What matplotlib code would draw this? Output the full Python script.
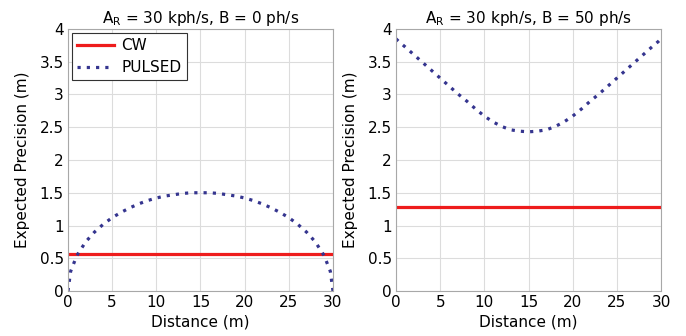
import matplotlib
matplotlib.use("Agg")
from matplotlib import pyplot as plt
from matplotlib.ticker import FormatStrFormatter

# distance samples (m)
distance = [0, 0.3, 1, 2, 3, 4, 5, 6, 7, 8, 9, 10, 11, 12, 13, 14, 15,
            16, 17, 18, 19, 20, 21, 22, 23, 24, 25, 26, 27, 28, 29, 29.7, 30]

# left panel: B = 0 ph/s
pulsed_b0 = [0, 0.30, 0.54, 0.75, 0.90, 1.02, 1.12, 1.20, 1.27, 1.33, 1.38, 1.42,
             1.45, 1.47, 1.49, 1.50, 1.50, 1.50, 1.49, 1.47, 1.45, 1.42, 1.38,
             1.33, 1.27, 1.20, 1.12, 1.02, 0.90, 0.75, 0.54, 0.30, 0]
cw_b0 = 0.57

# right panel: B = 50 ph/s
pulsed_b50 = [3.85, 3.81, 3.73, 3.61, 3.49, 3.37, 3.25, 3.13, 3.01, 2.90, 2.78, 2.67,
              2.58, 2.51, 2.46, 2.44, 2.43, 2.44, 2.46, 2.51, 2.58, 2.67, 2.78,
              2.90, 3.01, 3.13, 3.25, 3.37, 3.49, 3.61, 3.73, 3.81, 3.85]
cw_b50 = 1.29

titles = [r"A$_\mathrm{R}$ = 30 kph/s, B = 0 ph/s",
          r"A$_\mathrm{R}$ = 30 kph/s, B = 50 ph/s"]

xticks = [0, 5, 10, 15, 20, 25, 30]
yticks = [0, 0.5, 1, 1.5, 2, 2.5, 3, 3.5, 4]

plt.rcParams["font.family"] = ["DejaVu Sans"]
plt.rcParams["font.size"] = 10

fig = plt.figure(figsize=(6.86, 3.36), dpi=100)
ax1 = fig.add_axes([0.0991, 0.1339, 0.3863, 0.7798])
ax2 = fig.add_axes([0.5773, 0.1339, 0.3863, 0.7798])

red = "#ee1c1c"
blue = "#35358f"

for ax, pulsed, cw, title in [(ax1, pulsed_b0, cw_b0, titles[0]),
                              (ax2, pulsed_b50, cw_b50, titles[1])]:
    ax.plot([distance[0], distance[-1]], [cw, cw], color=red, linewidth=2.3, label="CW")
    ax.plot(distance, pulsed, color=blue, linewidth=2.3, linestyle=(0, (1, 1.9)),
            label="PULSED")
    ax.set_xlim(0, 30)
    ax.set_ylim(0, 4)
    ax.set_xticks(xticks)
    ax.set_yticks(yticks)
    ax.yaxis.set_major_formatter(FormatStrFormatter("%g"))
    ax.grid(True, color="#dcdcdc", linewidth=0.8)
    ax.set_axisbelow(True)
    ax.tick_params(length=0, pad=3, labelsize=11)
    for s in ax.spines.values():
        s.set_color("#a8a8a8")
        s.set_linewidth(0.8)
    ax.set_title(title, fontsize=11, pad=4)
    ax.set_xlabel("Distance (m)", fontsize=11, labelpad=3)
    ax.set_ylabel("Expected Precision (m)", fontsize=11, labelpad=7)

leg = ax1.legend(loc="upper left", fancybox=False, framealpha=1, edgecolor="#333333",
                 fontsize=11, borderaxespad=0.25, handlelength=2.4, borderpad=0.35,
                 labelspacing=0.45, handletextpad=0.5)
leg.get_frame().set_linewidth(0.8)

fig.savefig("out.png", dpi=100)
